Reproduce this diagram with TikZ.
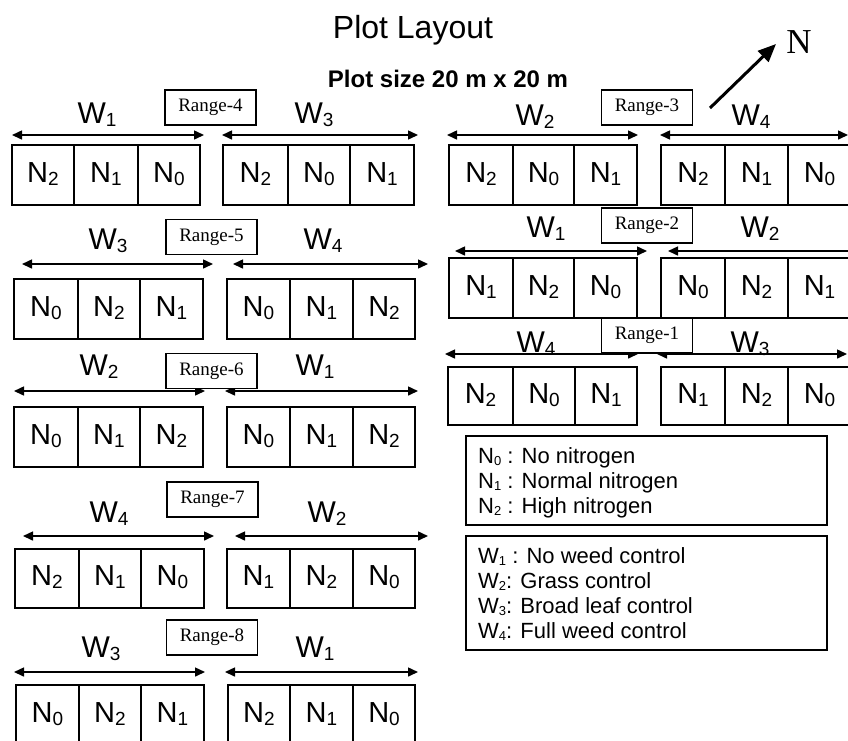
\documentclass[tikz,border=0pt]{standalone}
\usepackage{fontspec}
\setmainfont{Liberation Sans}
\newfontfamily\timesfont{Liberation Serif}
\usetikzlibrary{arrows.meta}

\newcommand\subd[1]{\raisebox{-3pt}{\fontsize{19}{19}\selectfont #1}}
\newcommand\Nl[1]{N\subd{#1}}
\newcommand\Wl[1]{W\subd{#1}}
\newcommand\legsub[1]{\raisebox{-2pt}{\fontsize{13}{13}\selectfont #1}}

\tikzset{
 cellbox/.style={draw, line width=1.2pt, inner sep=0pt, font=\fontsize{29}{29}\selectfont, text height=20.8pt, text depth=6pt},
 rangebox/.style={draw, line width=1.6pt, fill=white, inner sep=0pt, minimum width=91pt, minimum height=35pt, font=\timesfont\fontsize{19}{19}\selectfont},
 wlab/.style={anchor=base, inner sep=0pt, font=\fontsize{30}{30}\selectfont},
 dimarrow/.style={line width=1.5pt, {Triangle[length=10pt,width=9pt]}-{Triangle[length=10pt,width=9pt]}},
 legbox/.style={draw, line width=1.3pt, inner sep=0pt},
 legtext/.style={anchor=base west, inner sep=0pt, font=\fontsize{22}{22}\selectfont},
 compass/.style={line width=3pt, -{Triangle[length=18pt,width=15pt]}},
}

\newcommand\plotblock[8]{%
  \node[cellbox, minimum width={(#3-#2)*1pt}, minimum height={(\rowbot-\rowtop)*1pt}] (#1a) at ({(#2+#3)/2},{(\rowtop+\rowbot)/2}) {\Nl{#6}};
  \node[cellbox, minimum width={(#4-#3)*1pt}, minimum height={(\rowbot-\rowtop)*1pt}] (#1b) at ({(#3+#4)/2},{(\rowtop+\rowbot)/2}) {\Nl{#7}};
  \node[cellbox, minimum width={(#5-#4)*1pt}, minimum height={(\rowbot-\rowtop)*1pt}] (#1c) at ({(#4+#5)/2},{(\rowtop+\rowbot)/2}) {\Nl{#8}};
}
% name, y, xl1, xl2, xr1, xr2
\newcommand\arrowpair[6]{%
  \coordinate (#1Ls) at (#3,#2); \coordinate (#1Le) at (#4,#2);
  \coordinate (#1Rs) at (#5,#2); \coordinate (#1Re) at (#6,#2);
  \draw[dimarrow] (#1Ls) -- (#1Le);
  \draw[dimarrow] (#1Rs) -- (#1Re);
}

\begin{document}
\begin{tikzpicture}[x=1pt,y=-1pt]
\useasboundingbox (0,0) rectangle (848,740);

% titles
\node[anchor=base, inner sep=0pt, font=\fontsize{32}{32}\selectfont] (title) at (413,38) {Plot Layout};
\node[anchor=base, inner sep=0pt, font=\bfseries\fontsize{24}{24}\selectfont] (subtitle) at (448,87) {Plot size 20 m x 20 m};

% compass
\coordinate (cs) at (710,108);
\coordinate (ce) at (776,44);
\draw[compass] (cs) -- (ce);
\node[anchor=base, inner sep=0pt, font=\timesfont\fontsize{35}{35}\selectfont] (north) at (799,53) {N};

% ---------- left column ----------
% Range-4
\def\rowtop{145}\def\rowbot{205}
\plotblock{r4L}{12}{74}{138}{200}{2}{1}{0}
\plotblock{r4R}{223}{288}{350}{414}{2}{0}{1}
\arrowpair{a4}{135}{12}{204}{222}{418}
\node[wlab] (w4L) at (97,123) {\Wl{1}};
\node[wlab] (w4R) at (314,123) {\Wl{3}};
\node[rangebox] (rg4) at (210.5,107.5) {Range-4};

% Range-5
\def\rowtop{279}\def\rowbot{339}
\plotblock{r5L}{14}{78}{140}{203}{0}{2}{1}
\plotblock{r5R}{227}{290}{353}{415}{0}{1}{2}
\arrowpair{a5}{264}{22}{213}{233}{428}
\node[wlab] (w5L) at (108,249) {\Wl{3}};
\node[wlab] (w5R) at (323,249) {\Wl{4}};
\node[rangebox] (rg5) at (211.5,237) {Range-5};

% Range-6
\def\rowtop{407}\def\rowbot{467}
\plotblock{r6L}{14}{78}{140}{203}{0}{1}{2}
\plotblock{r6R}{227}{290}{353}{415}{0}{1}{2}
\arrowpair{a6}{391}{14}{205}{225}{418}
\node[wlab] (w6L) at (99,375) {\Wl{2}};
\node[wlab] (w6R) at (315,375) {\Wl{1}};
\node[rangebox] (rg6) at (211.5,371) {Range-6};

% Range-7
\def\rowtop{549}\def\rowbot{608}
\plotblock{r7L}{15}{79}{141}{204}{2}{1}{0}
\plotblock{r7R}{227}{290}{353}{415}{1}{2}{0}
\arrowpair{a7}{536}{23}{214}{235}{428}
\node[wlab] (w7L) at (109,522) {\Wl{4}};
\node[wlab] (w7R) at (327,522) {\Wl{2}};
\node[rangebox] (rg7) at (212.5,499.5) {Range-7};

% Range-8
\def\rowtop{685}\def\rowbot{745}
\plotblock{r8L}{16}{79}{141}{204}{0}{2}{1}
\plotblock{r8R}{228}{290}{353}{415}{2}{1}{0}
\arrowpair{a8}{672}{14}{205}{225}{418}
\node[wlab] (w8L) at (101,657) {\Wl{3}};
\node[wlab] (w8R) at (315,657) {\Wl{1}};
\node[rangebox] (rg8) at (212,637.5) {Range-8};

% ---------- right column ----------
% Range-3
\def\rowtop{145}\def\rowbot{205}
\plotblock{r3L}{449}{513}{574}{637}{2}{0}{1}
\plotblock{r3R}{661}{725}{788}{851}{2}{1}{0}
\arrowpair{a3}{135}{447}{638}{660}{848}
\node[wlab] (w3L) at (535,125) {\Wl{2}};
\node[wlab] (w3R) at (751,125) {\Wl{4}};
\node[rangebox] (rg3) at (647,107.5) {Range-3};

% Range-2
\def\rowtop{258}\def\rowbot{318}
\plotblock{r2L}{449}{513}{574}{637}{1}{2}{0}
\plotblock{r2R}{661}{725}{788}{851}{0}{2}{1}
\arrowpair{a2}{251}{455}{647}{668}{880}
\node[wlab] (w2L) at (546,237) {\Wl{1}};
\node[wlab] (w2R) at (760,237) {\Wl{2}};
\node[rangebox] (rg2) at (647,225.5) {Range-2};

% Range-1
\def\rowtop{367}\def\rowbot{425}
\plotblock{r1L}{448}{513}{575}{637}{2}{0}{1}
\plotblock{r1R}{661}{725}{788}{851}{1}{2}{0}
\arrowpair{a1}{354}{445}{638}{657}{847}
\node[wlab] (w1L) at (536,352) {\Wl{4}};
\node[wlab] (w1R) at (750,352) {\Wl{3}};
\node[rangebox] (rg1) at (647,335.5) {Range-1};

% ---------- legend ----------
\node[legbox, minimum width=361pt, minimum height=89pt] (legN) at (646.5,480.5) {};
\node[legbox, minimum width=361pt, minimum height=114pt] (legW) at (646.5,593) {};
\node[legtext] (ln0) at (478,463) {N\legsub{0} : No nitrogen};
\node[legtext] (ln1) at (478,488) {N\legsub{1} : Normal nitrogen};
\node[legtext] (ln2) at (478,513) {N\legsub{2} : High nitrogen};
\node[legtext] (lw1) at (478,563) {W\legsub{1} : No weed control};
\node[legtext] (lw2) at (478,588) {W\legsub{2}: Grass control};
\node[legtext] (lw3) at (478,613) {W\legsub{3}: Broad leaf control};
\node[legtext] (lw4) at (478,638) {W\legsub{4}: Full weed control};
\end{tikzpicture}
\end{document}
